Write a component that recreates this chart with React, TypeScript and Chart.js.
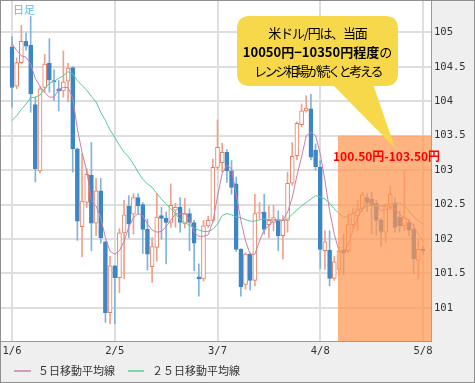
import { useEffect, useRef } from 'react';
import { Chart, registerables } from 'chart.js';

Chart.register(...registerables);

// ---- data (trading-day index 0 = 1/6, 88 = 5/8) ----
const OPEN = [104.79, 104.22, 104.56, 104.87, 104.81, 103.95, 102.99, 104.20, 104.55, 104.30,
  104.18, 104.15, 104.29, 104.49, 103.31, 102.18, 102.53, 102.93, 102.23, 102.70,
  101.96, 100.93, 101.61, 101.44, 102.09, 102.48, 102.36, 102.60, 102.50, 102.14,
  101.60, 101.88, 102.34, 102.30, 102.24, 102.42, 102.46, 102.22, 102.37, 102.24,
  101.45, 101.42, 102.19, 102.27, 103.04, 103.11, 103.26, 102.99, 102.80, 101.85,
  101.34, 101.78, 101.40, 102.37, 102.39, 102.21, 102.24, 102.28, 102.05, 102.27,
  102.81, 103.21, 103.66, 103.86, 103.89, 103.29, 103.04, 101.83, 101.84, 101.43,
  101.56, 101.84, 101.83, 102.21, 102.34, 102.44, 102.60, 102.58, 102.52, 102.27,
  102.10, 102.48, 102.52, 102.32, 102.19, 102.24, 102.14, 101.69, 101.85];
const HIGH = [104.94, 104.63, 105.10, 104.99, 105.23, 104.06, 104.21, 104.68, 104.91, 104.46,
  104.30, 104.73, 104.55, 104.50, 103.32, 103.24, 103.02, 103.40, 102.88, 102.88,
  101.97, 101.75, 101.62, 102.15, 102.56, 102.63, 102.66, 102.66, 102.53, 102.29,
  102.02, 102.66, 102.46, 102.39, 102.80, 102.52, 102.60, 102.59, 102.44, 102.27,
  101.64, 102.27, 102.33, 103.16, 103.73, 103.39, 103.30, 103.14, 102.90, 101.86,
  101.80, 101.80, 102.65, 102.53, 102.65, 102.48, 102.49, 102.41, 102.34, 102.97,
  103.40, 103.70, 103.96, 104.08, 104.10, 103.38, 103.14, 102.12, 102.12, 101.75,
  101.88, 102.07, 102.36, 102.45, 102.56, 102.68, 102.66, 102.68, 102.56, 102.30,
  102.51, 102.77, 102.60, 102.40, 102.99, 102.29, 102.22, 102.00, 101.90];
const LOW = [103.91, 104.18, 104.54, 104.74, 103.84, 102.83, 102.96, 104.13, 104.13, 104.01,
  103.86, 104.06, 103.99, 102.97, 101.98, 101.74, 102.46, 101.83, 102.05, 101.94,
  100.79, 100.77, 100.77, 101.22, 101.42, 102.02, 102.07, 102.36, 101.79, 101.55,
  101.37, 101.68, 102.00, 101.64, 102.17, 102.17, 102.10, 102.16, 101.83, 101.54,
  101.17, 101.39, 102.17, 102.24, 103.00, 102.97, 102.82, 102.65, 101.82, 101.17,
  101.27, 101.26, 101.32, 102.30, 102.07, 102.02, 102.12, 101.83, 101.71, 102.10,
  102.78, 103.15, 103.63, 103.84, 103.15, 103.00, 101.57, 101.56, 101.32, 101.40,
  101.47, 101.49, 101.80, 102.15, 102.12, 102.40, 102.40, 102.07, 102.05, 101.90,
  101.95, 102.42, 102.10, 102.10, 102.12, 102.05, 101.49, 101.42, 101.78];
const CLOSE = [104.20, 104.56, 104.87, 104.80, 104.11, 103.02, 104.18, 104.54, 104.31, 104.28,
  104.15, 104.28, 104.48, 103.31, 102.26, 102.55, 102.94, 102.23, 102.70, 102.02,
  100.93, 101.61, 101.44, 102.09, 102.35, 102.22, 102.60, 102.48, 102.14, 101.78,
  101.89, 102.32, 102.30, 102.24, 102.49, 102.46, 102.24, 102.37, 102.24, 101.94,
  101.42, 102.19, 102.27, 103.04, 103.33, 103.26, 102.99, 102.75, 101.85, 101.31,
  101.78, 101.40, 102.37, 102.39, 102.14, 102.27, 102.31, 102.05, 102.27, 102.81,
  103.20, 103.68, 103.86, 103.90, 103.19, 103.05, 101.85, 101.96, 101.43, 101.67,
  101.83, 101.80, 102.21, 102.37, 102.44, 102.64, 102.53, 102.50, 102.27, 102.11,
  102.48, 102.65, 102.17, 102.19, 102.31, 102.13, 101.71, 101.85, 101.83];
const MA5 = [104.84, 104.74, 104.66, 104.64, 104.54, 104.33, 104.22, 104.13, 104.06, 104.06,
  104.17, 104.20, 104.20, 104.05, 103.60, 103.26, 102.99, 102.56, 102.48, 102.31,
  102.02, 101.82, 101.78, 101.83, 101.97, 102.17, 102.31, 102.37, 102.34, 102.22,
  102.13, 102.10, 102.11, 102.18, 102.27, 102.37, 102.36, 102.37, 102.29, 102.10,
  102.04, 102.04, 102.06, 102.25, 102.62, 102.95, 103.07, 103.02, 102.65, 102.27,
  101.97, 101.78, 101.78, 101.97, 102.14, 102.19, 102.27, 102.28, 102.27, 102.39,
  102.60, 102.92, 103.19, 103.50, 103.55, 103.50, 103.24, 102.85, 102.41, 102.07,
  101.83, 101.78, 101.93, 102.12, 102.31, 102.44, 102.53, 102.53, 102.50, 102.41,
  102.43, 102.46, 102.44, 102.36, 102.31, 102.27, 102.19, 102.07, 101.97];
const MA25 = [103.72, 103.79, 103.88, 103.96, 104.05, 104.06, 104.09, 104.18, 104.26, 104.29,
  104.33, 104.37, 104.43, 104.40, 104.30, 104.23, 104.16, 104.07, 103.99, 103.84,
  103.72, 103.58, 103.48, 103.36, 103.26, 103.19, 103.09, 102.97, 102.87, 102.80,
  102.75, 102.66, 102.58, 102.51, 102.44, 102.37, 102.28, 102.24, 102.20, 102.16,
  102.13, 102.11, 102.11, 102.14, 102.22, 102.34, 102.37, 102.35, 102.32, 102.31,
  102.28, 102.26, 102.26, 102.28, 102.29, 102.28, 102.28, 102.27, 102.27, 102.29,
  102.36, 102.42, 102.48, 102.53, 102.58, 102.63, 102.61, 102.58, 102.52, 102.44,
  102.37, 102.31, 102.34, 102.37, 102.41, 102.45, 102.48, 102.49, 102.48, 102.48,
  102.50, 102.51, 102.52, 102.52, 102.48, 102.41, 102.32, 102.27, 102.22];

const X_TICK_INDEX = [0, 22, 44, 66, 88];
const X_TICK_LABELS = ['1/6', '2/5', '3/7', '4/8', '5/8'];
const Y_TICKS = [101, 101.5, 102, 102.5, 103, 103.5, 104, 104.5, 105];
const Y_MIN = 100.52;
const Y_MAX = 105.455;
const X_MIN = -2.355;
const X_MAX = 89.71;

const RANGE_FROM_INDEX = 69.8;
const RANGE_LOW = 100.5;
const RANGE_HIGH = 103.5;
const RANGE_LABEL = '100.50円-103.50円';
const TITLE = '日足';
const CALLOUT_LINE1 = '米ドル/円は、当面';
const CALLOUT_LINE2_BOLD = '10050円−10350円程度';
const CALLOUT_LINE2_REST = 'の';
const CALLOUT_LINE3 = 'レンジ相場が続くと考える';
const LEGEND_LABELS = ['５日移動平均線', '２５日移動平均線'];

const MA5_COLOR = '#cc7fa9';
const MA25_COLOR = '#58c996';
const UP_COLOR = '#e67e62';
const UP_WICK = '#eea18d';
const DOWN_COLOR = '#3d86c6';
const DOWN_WICK = '#82b3da';
const JP = '"Noto Sans CJK JP", "Noto Sans", sans-serif';
const MONO = '"DejaVu Sans Mono", monospace';

const decor = {
  id: 'decor',
  beforeDraw(chart: any) {
    const { ctx, chartArea: a } = chart;
    ctx.save();
    ctx.fillStyle = '#ffffff';
    ctx.fillRect(a.left, a.top, a.right - a.left, a.bottom - a.top);
    ctx.restore();
  },
  afterDatasetsDraw(chart: any) {
    const { ctx, chartArea: a, scales } = chart;
    const x = scales.x;
    const y = scales.y;
    const left = x.getPixelForValue(RANGE_FROM_INDEX);
    const top = y.getPixelForValue(RANGE_HIGH);
    const bottom = Math.min(y.getPixelForValue(RANGE_LOW), a.bottom);
    ctx.save();
    ctx.fillStyle = 'rgba(255,150,80,0.72)';
    ctx.fillRect(left, top, a.right + 0.5 - left, bottom - top);
    ctx.fillStyle = '#ff0000';
    ctx.font = `bold 12px ${JP}`;
    ctx.textAlign = 'left';
    ctx.textBaseline = 'middle';
    ctx.fillText(RANGE_LABEL, left - 5, top + 21);
    ctx.restore();
  },
  afterDraw(chart: any) {
    const { ctx } = chart;
    ctx.save();
    // title
    ctx.fillStyle = '#55bfee';
    ctx.font = `11px ${JP}`;
    ctx.textAlign = 'left';
    ctx.textBaseline = 'middle';
    ctx.fillText(TITLE, 12, 9);

    // callout bubble
    const L = 236, T = 15, R = 397, B = 85, r = 13;
    ctx.fillStyle = '#f6d84a';
    ctx.beginPath();
    ctx.moveTo(L + r, T);
    ctx.lineTo(R - r, T);
    ctx.quadraticCurveTo(R, T, R, T + r);
    ctx.lineTo(R, B - r);
    ctx.quadraticCurveTo(R, B, R - r, B);
    ctx.lineTo(L + r, B);
    ctx.quadraticCurveTo(L, B, L, B - r);
    ctx.lineTo(L, T + r);
    ctx.quadraticCurveTo(L, T, L + r, T);
    ctx.closePath();
    ctx.fill();
    ctx.beginPath();
    ctx.moveTo(331, B - 2);
    ctx.lineTo(394, 147);
    ctx.lineTo(372, B - 2);
    ctx.closePath();
    ctx.fill();

    const cx = 316.5;
    ctx.fillStyle = '#000000';
    ctx.textAlign = 'center';
    ctx.textBaseline = 'middle';
    const c: any = ctx;
    c.letterSpacing = '-1.2px';
    ctx.font = `13px ${JP}`;
    ctx.fillText(CALLOUT_LINE1, cx, 32);
    c.letterSpacing = '0px';
    ctx.font = `bold 13px ${JP}`;
    const w1 = ctx.measureText(CALLOUT_LINE2_BOLD).width;
    ctx.font = `13px ${JP}`;
    const w2 = ctx.measureText(CALLOUT_LINE2_REST).width;
    const start = cx - (w1 + w2) / 2;
    ctx.textAlign = 'left';
    ctx.font = `bold 13px ${JP}`;
    ctx.fillText(CALLOUT_LINE2_BOLD, start, 51.5);
    ctx.font = `13px ${JP}`;
    ctx.fillText(CALLOUT_LINE2_REST, start + w1, 51.5);
    ctx.textAlign = 'center';
    c.letterSpacing = '-2.4px';
    ctx.fillText(CALLOUT_LINE3, cx, 70);
    c.letterSpacing = '0px';

    // legend
    ctx.font = `11px ${JP}`;
    ctx.textAlign = 'left';
    ctx.fillStyle = '#333333';
    ctx.lineWidth = 1.5;
    ctx.strokeStyle = MA5_COLOR;
    ctx.beginPath();
    ctx.moveTo(13, 370);
    ctx.lineTo(30, 370);
    ctx.stroke();
    ctx.fillText(LEGEND_LABELS[0], 37, 370);
    ctx.strokeStyle = MA25_COLOR;
    ctx.beginPath();
    ctx.moveTo(127, 370);
    ctx.lineTo(143, 370);
    ctx.stroke();
    ctx.fillText(LEGEND_LABELS[1], 151, 370);
    ctx.restore();
  },
};

export default function App() {
  const ref = useRef<HTMLCanvasElement>(null);
  useEffect(() => {
    const canvas = ref.current;
    if (!canvas) return;
    const up = CLOSE.map((c, i) => c >= OPEN[i]);
    const chart = new Chart(canvas, {
      type: 'bar',
      data: {
        datasets: [
          {
            type: 'line',
            label: LEGEND_LABELS[0],
            data: MA5.map((v, i) => ({ x: i, y: v })),
            borderColor: MA5_COLOR,
            borderWidth: 1,
            pointRadius: 0,
            fill: false,
            tension: 0,
          } as any,
          {
            type: 'line',
            label: LEGEND_LABELS[1],
            data: MA25.map((v, i) => ({ x: i, y: v })),
            borderColor: MA25_COLOR,
            borderWidth: 1,
            pointRadius: 0,
            fill: false,
            tension: 0,
          } as any,
          {
            type: 'bar',
            label: 'body',
            data: OPEN.map((o, i) => ({ x: i, y: [o, CLOSE[i]] })),
            backgroundColor: up.map((u) => (u ? '#ffffff' : DOWN_COLOR)),
            borderColor: up.map((u) => (u ? UP_COLOR : DOWN_COLOR)),
            borderWidth: 1,
            borderSkipped: false,
            barThickness: 4,
            minBarLength: 1,
            grouped: false,
          } as any,
          {
            type: 'bar',
            label: 'wick',
            data: HIGH.map((h, i) => ({ x: i, y: [LOW[i], h] })),
            backgroundColor: up.map((u) => (u ? UP_WICK : DOWN_WICK)),
            borderWidth: 0,
            barThickness: 1,
            grouped: false,
          } as any,
        ],
      },
      options: {
        responsive: false,
        animation: false,
        devicePixelRatio: 1,
        events: [],
        layout: { padding: 0 },
        plugins: { legend: { display: false }, tooltip: { enabled: false } },
        scales: {
          x: {
            type: 'linear',
            min: X_MIN,
            max: X_MAX,
            offset: false,
            afterBuildTicks: (s: any) => {
              s.ticks = X_TICK_INDEX.map((v) => ({ value: v }));
            },
            afterFit: (s: any) => {
              s.height = 41;
              s.paddingLeft = 0;
              s.paddingRight = 0;
              s.paddingTop = 0;
              s.paddingBottom = 0;
            },
            ticks: {
              autoSkip: false,
              maxRotation: 0,
              padding: 0,
              color: '#333333',
              font: { family: MONO, size: 10.5, lineHeight: 2 },
              callback: (v: any) => X_TICK_LABELS[X_TICK_INDEX.indexOf(Number(v))] ?? '',
            },
            grid: { color: '#dedede', lineWidth: 2, drawTicks: false, offset: false },
            border: { color: '#9a9a9a', width: 1 },
          },
          y: {
            type: 'linear',
            position: 'right',
            min: Y_MIN,
            max: Y_MAX,
            afterBuildTicks: (s: any) => {
              s.ticks = Y_TICKS.map((v) => ({ value: v }));
            },
            afterFit: (s: any) => {
              s.width = 43;
              s.paddingTop = 0;
              s.paddingBottom = 0;
              s.paddingLeft = 0;
              s.paddingRight = 0;
            },
            ticks: {
              padding: 3,
              color: '#333333',
              font: { family: MONO, size: 10.5 },
              callback: (v: any) => String(v),
            },
            grid: { color: '#dedede', lineWidth: 2, drawTicks: false },
            border: { color: '#9a9a9a', width: 1 },
          },
        },
      } as any,
      plugins: [decor],
    });
    return () => chart.destroy();
  }, []);
  return (
    <div
      style={{
        position: 'absolute',
        left: 0,
        top: 0,
        width: 475,
        height: 383,
        boxSizing: 'border-box',
        border: '1px solid #8f8f8f',
        background: '#efefef',
      }}
    >
      <canvas ref={ref} width={473} height={381} style={{ display: 'block', width: 473, height: 381 }} />
    </div>
  );
}
